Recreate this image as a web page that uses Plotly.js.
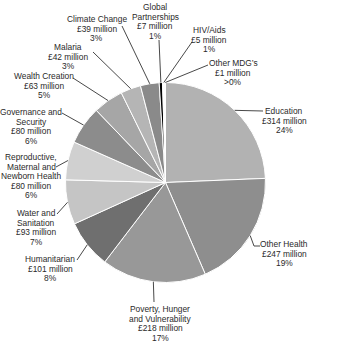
<!DOCTYPE html>
<html>
<head>
<meta charset="utf-8">
<script src="https://cdn.plot.ly/plotly-3.0.1.min.js"></script>
<style>html,body{margin:0;padding:0;background:#fff}</style>
</head>
<body>
<div id="chart" style="width:354px;height:343px"></div>
<script>
// ---- data ----
const categories = ["Education","Other Health","Poverty, Hunger and Vulnerability","Humanitarian","Water and Sanitation","Reproductive, Maternal and Newborn Health","Governance and Security","Wealth Creation","Malaria","Climate Change","Global Partnerships","HIV/Aids","Other MDG’s"];
const values = [314,247,218,101,93,80,80,63,42,39,7,5,1];
const nameLines = [["Education"],["Other Health"],["Poverty, Hunger","and Vulnerability"],["Humanitarian"],["Water and","Sanitation"],["Reproductive,","Maternal and","Newborn Health"],["Governance and","Security"],["Wealth Creation"],["Malaria"],["Climate Change"],["Global","Partnerships"],["HIV/Aids"],["Other MDG’s"]];
const pctLabels = ["24%","19%","17%","8%","7%","6%","6%","5%","3%","3%","1%","1%",">0%"];

// ---- styling / layout ----
const colors = ["#b2b2b2","#8e8e8e","#989898","#6f6f6f","#c5c5c5","#d0d0d0","#8c8c8c","#a6a6a6","#b5b5b5","#8a8a8a","#000000","#ffffff","#e6e6e6"];
const W = 354, H = 343;
const CX = 165.5, CY = 182.5, R = 100;
// label placement: [text centre x, first line y, leader start x, leader start y, optional elbow]
const labelPlace = [
  [284,111, 263,111],
  [284,244, 260,246, [254,246]],
  [160,309, 154,302],
  [50,259, 77,260],
  [36,213, 57,214],
  [31,157, 56,167],
  [31,112, 62,113],
  [44,76, 73,78],
  [68,47, 93,52],
  [97,19, 122,26],
  [155,7, 159,40],
  [209,30, 192,42],
  [233,63, 208,65]
];
const LS = 9.6;
const px = x => x / W;
const py = y => 1 - y / H;

const total = values.reduce((a,b)=>a+b,0);
const annotations = [];
const shapes = [];
let cum = 0;
values.forEach((v,i) => {
  const mid = (cum + v/2) / total * 2 * Math.PI; // clockwise from 12 o'clock
  cum += v;
  const tx = CX + R * Math.sin(mid);
  const ty = CY - R * Math.cos(mid);
  const p = labelPlace[i];
  const lines = nameLines[i].concat(["£" + v + " million", pctLabels[i]]);
  lines.forEach((t,k) => {
    annotations.push({
      xref:"paper", yref:"paper", x:px(p[0]), y:py(p[1] + k*LS),
      text:t, showarrow:false, xanchor:"center", yanchor:"middle",
      font:{family:"Liberation Sans, Arial, sans-serif", size:8.4, color:"#2a2a2a"}
    });
  });
  let path = "M" + px(tx) + "," + py(ty);
  if (p[4]) path += " L" + px(p[4][0]) + "," + py(p[4][1]);
  path += " L" + px(p[2]) + "," + py(p[3]);
  shapes.push({type:"path", xref:"paper", yref:"paper", path:path, line:{color:"#333", width:0.9}});
});

const trace = {
  type:"pie",
  labels:categories,
  values:values,
  sort:false,
  direction:"clockwise",
  rotation:0,
  textinfo:"none",
  hoverinfo:"none",
  marker:{colors:colors, line:{color:"#ffffff", width:1}},
  domain:{x:[(CX-R)/W,(CX+R)/W], y:[1-(CY+R)/H, 1-(CY-R)/H]},
  showlegend:false
};

Plotly.newPlot("chart",[trace],{
  width:W, height:H,
  margin:{l:0,r:0,t:0,b:0},
  paper_bgcolor:"#ffffff",
  showlegend:false,
  annotations:annotations,
  shapes:shapes
},{staticPlot:true});
</script>
</body>
</html>
